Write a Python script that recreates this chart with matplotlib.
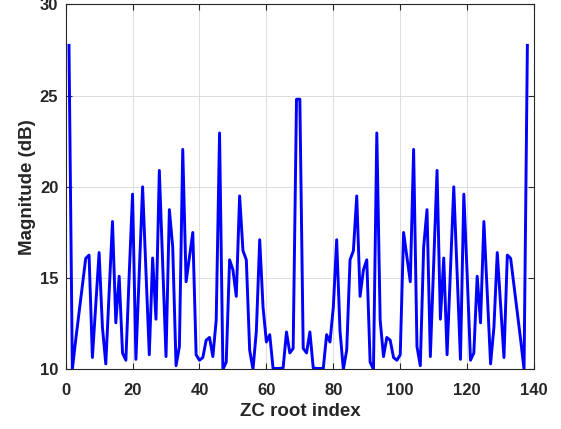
import matplotlib
matplotlib.use("Agg")
import matplotlib.pyplot as plt

plt.rcParams['font.family'] = ['Liberation Sans', 'DejaVu Sans']

# ZC root index (1..138) and peak correlation magnitude in dB
root_index = list(range(1, 139))
magnitude_db = [
    27.75, 10.0, 11.6, 13.1, 14.6, 16.08, 16.26, 10.65, 13.5, 16.4,
    12.3, 10.3, 14.2, 18.1, 12.55, 15.1, 10.9, 10.5, 15.2, 19.6,
    10.55, 15.3, 20.0, 15.4, 10.8, 16.1, 12.75, 20.9, 15.8, 10.7,
    18.75, 16.7, 10.2, 11.25, 22.05, 14.8, 16.15, 17.5, 10.8, 10.5,
    10.65, 11.6, 11.75, 10.7, 12.7, 22.95, 10.0, 10.4, 16.0, 15.45,
    14.0, 19.5, 16.5, 16.0, 11.05, 10.0, 12.1, 17.1, 13.4, 11.5,
    11.9, 10.05, 10.05, 10.05, 10.08, 12.05, 10.9, 11.15, 24.8,
    24.8, 11.15, 10.9, 12.05, 10.08, 10.05, 10.05, 10.05, 11.9, 11.5,
    13.4, 17.1, 12.1, 10.0, 11.05, 16.0, 16.5, 19.5, 14.0, 15.45,
    16.0, 10.4, 10.0, 22.95, 12.7, 10.7, 11.75, 11.6, 10.65, 10.5,
    10.8, 17.5, 16.15, 14.8, 22.05, 11.25, 10.2, 16.7, 18.75, 10.7,
    15.8, 20.9, 12.75, 16.1, 10.8, 15.4, 20.0, 15.3, 10.55, 19.6,
    15.2, 10.5, 10.9, 15.1, 12.55, 18.1, 14.2, 10.3, 12.3, 16.4,
    13.5, 10.65, 16.26, 16.08, 14.6, 13.1, 11.6, 10.0, 27.75,
]

x_ticks = [0, 20, 40, 60, 80, 100, 120, 140]
y_ticks = [10, 15, 20, 25, 30]

text_color = '#262626'

fig = plt.figure(figsize=(5.61, 4.29), dpi=100)
ax = fig.add_axes([0.117, 0.139, 0.835, 0.851])

ax.plot(root_index, magnitude_db, color='#0000ff', linewidth=2.1, solid_joinstyle='round')

ax.set_xlim(0, 140)
ax.set_ylim(10, 30)
ax.set_xticks(x_ticks)
ax.set_yticks(y_ticks)

ax.grid(True, color='#dcdcdc', linewidth=0.7)
ax.set_axisbelow(True)

for spine in ax.spines.values():
    spine.set_color(text_color)
    spine.set_linewidth(0.8)

ax.tick_params(direction='in', top=True, right=True, length=4, width=0.8,
               colors=text_color, labelsize=12)
ax.tick_params(axis='x', pad=9.5)
ax.tick_params(axis='y', pad=5.3)
for lbl in ax.get_xticklabels() + ax.get_yticklabels():
    lbl.set_fontweight('bold')

ax.set_xlabel('ZC root index', fontsize=13.5, fontweight='bold', color=text_color, labelpad=4)
ax.set_ylabel('Magnitude (dB)', fontsize=13.5, fontweight='bold', color=text_color, labelpad=3)

fig.savefig('out.png', dpi=100)
